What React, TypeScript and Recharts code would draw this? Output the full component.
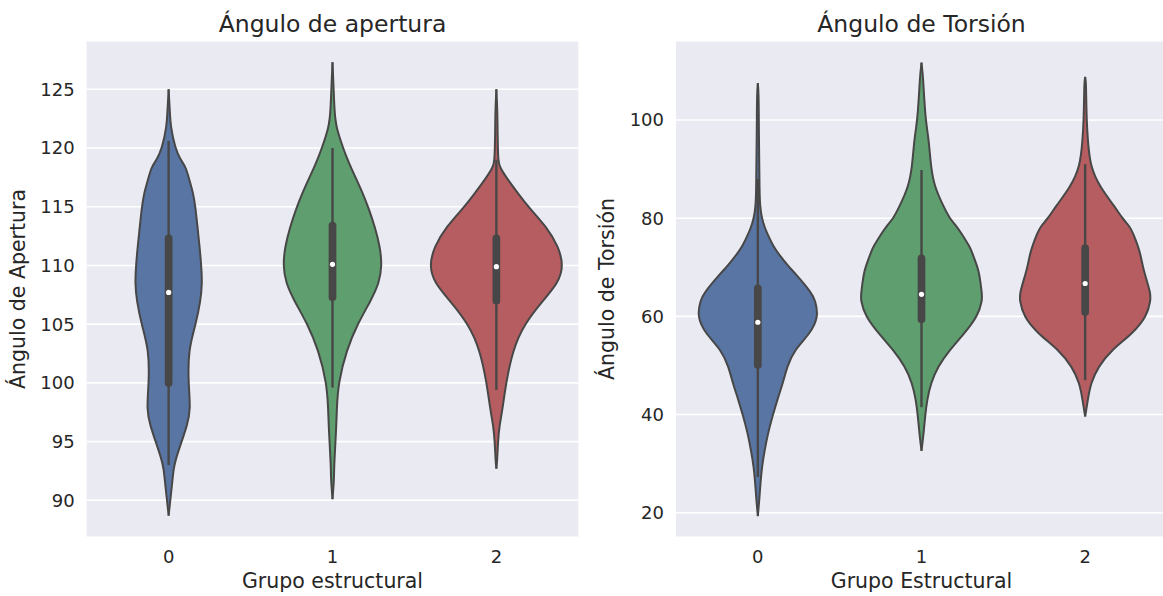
import React from 'react';
import {
  ComposedChart,
  Area,
  Line,
  XAxis,
  YAxis,
  CartesianGrid,
  ReferenceLine,
  ReferenceDot,
} from 'recharts';

// ---------- shared ----------
const categories = [0, 1, 2];
const categoryTicks = [0, 1, 2];
const violinColors = ['#5975a4', '#5f9e6e', '#b55d60'];

// ---------- Ángulo de apertura ----------
const aperturaTitle = 'Ángulo de apertura';
const aperturaXLabel = 'Grupo estructural';
const aperturaYLabel = 'Ángulo de Apertura';
const aperturaTicks = [90, 95, 100, 105, 110, 115, 120, 125];
const aperturaDomain = [86.85, 129.14];
const aperturaLevels = [88.7, 90.1, 91.7, 92.7, 93.4, 95, 96.3, 97.7, 100, 102.8, 105, 107, 108.5, 110, 111.6, 113.3, 115, 116.1, 117.3, 118.4, 119, 120, 121.8, 123.2, 125, 127.3];
const aperturaWidth0 = [0, 0.011, 0.023, 0.031, 0.041, 0.079, 0.111, 0.135, 0.12, 0.12, 0.166, 0.195, 0.205, 0.199, 0.189, 0.176, 0.163, 0.151, 0.126, 0.105, 0.072, 0.04, 0.012, 0.007, 0, null];
const aperturaWidth1 = [null, 0, 0.009, 0.01, 0.012, 0.018, 0.023, 0.026, 0.035, 0.086, 0.152, 0.234, 0.285, 0.302, 0.29, 0.259, 0.217, 0.186, 0.147, 0.111, 0.092, 0.065, 0.021, 0.012, 0.007, 0];
const aperturaWidth2 = [null, null, null, 0, 0.005, 0.01, 0.018, 0.037, 0.059, 0.1, 0.17, 0.284, 0.378, 0.41, 0.379, 0.306, 0.194, 0.134, 0.07, 0.018, 0.012, 0.009, 0.007, 0.006, 0, null];
const aperturaWhiskerLow = [93.0, 99.6, 99.4];
const aperturaQ1 = [100.0, 107.3, 107.0];
const aperturaMedian = [107.7, 110.1, 109.9];
const aperturaQ3 = [112.3, 113.4, 112.3];
const aperturaWhiskerHigh = [120.6, 120.0, 119.0];

// ---------- Ángulo de Torsión ----------
const torsionTitle = 'Ángulo de Torsión';
const torsionXLabel = 'Grupo Estructural';
const torsionYLabel = 'Ángulo de Torsión';
const torsionTicks = [20, 40, 60, 80, 100];
const torsionDomain = [15.0, 116.15];
const torsionLevels = [19.3, 22.6, 26, 29.4, 32.6, 36.2, 39.6, 43, 46.4, 49.7, 53.1, 56.5, 60, 63.3, 64.7, 68.8, 70.1, 72.8, 74.2, 76.9, 78.3, 80, 82.3, 86.4, 90.5, 95.9, 100, 105.4, 107.5, 108.8, 111.7];
const torsionWidth0 = [0, 0.009, 0.016, 0.025, 0.041, 0.062, 0.089, 0.119, 0.153, 0.178, 0.222, 0.32, 0.372, 0.35, 0.331, 0.227, 0.189, 0.125, 0.095, 0.057, 0.04, 0.025, 0.013, 0.01, 0.009, 0.007, 0.006, 0.005, 0, null, null];
const torsionWidth1 = [null, null, null, null, 0, 0.013, 0.022, 0.034, 0.057, 0.099, 0.171, 0.262, 0.343, 0.372, 0.369, 0.353, 0.341, 0.312, 0.295, 0.244, 0.216, 0.171, 0.136, 0.079, 0.057, 0.045, 0.025, 0.015, 0.011, 0.009, 0];
const torsionWidth2 = [null, null, null, null, null, null, 0, 0.016, 0.034, 0.079, 0.159, 0.29, 0.377, 0.4, 0.4, 0.363, 0.353, 0.336, 0.324, 0.293, 0.273, 0.226, 0.182, 0.089, 0.031, 0.016, 0.009, 0.006, 0.005, 0, null];
const torsionWhiskerLow = [27.3, 41.5, 47.0];
const torsionQ1 = [50.1, 59.4, 60.9];
const torsionMedian = [58.8, 64.5, 66.7];
const torsionQ3 = [65.7, 71.8, 73.9];
const torsionWhiskerHigh = [88.0, 89.8, 91.0];

const TEXT = '#262626';
const EDGE = '#474747';
const FONT = "'DejaVu Sans', sans-serif";
const CURVE = 'basis';

function buildRows(levels: number[], widths: (number | null)[][]) {
  return levels.map((y, i) => {
    const row: Record<string, any> = { y };
    widths.forEach((w, k) => {
      const c = categories[k];
      const h = w[i];
      row[`v${k}`] = h == null ? null : [c - h, c + h];
      row[`l${k}`] = h == null ? null : c - h;
      row[`r${k}`] = h == null ? null : c + h;
    });
    return row;
  });
}

type PanelProps = {
  rows: Record<string, any>[];
  domain: number[];
  ticks: number[];
  whiskerLow: number[];
  q1: number[];
  median: number[];
  q3: number[];
  whiskerHigh: number[];
  width: number;
  margin: { top: number; right: number; bottom: number; left: number };
};

function ViolinPanel(p: PanelProps) {
  return (
    <ComposedChart layout="vertical" width={p.width} height={596} data={p.rows} margin={p.margin}>
      <CartesianGrid horizontal vertical={false} stroke="#ffffff" strokeWidth={1.6} fill="#EAEAF2" fillOpacity={1} />
      <XAxis
        type="number"
        domain={[-0.5, 2.5]}
        ticks={categoryTicks}
        allowDataOverflow
        interval={0}
        axisLine={false}
        tickLine={false}
        tickSize={0}
        tickMargin={13}
        height={30}
        tick={{ fontSize: 18, fill: TEXT, fontFamily: FONT }}
      />
      <YAxis
        type="number"
        dataKey="y"
        domain={p.domain}
        ticks={p.ticks}
        reversed
        allowDataOverflow
        interval={0}
        axisLine={false}
        tickLine={false}
        tickSize={0}
        tickMargin={12}
        width={60}
        tick={{ fontSize: 18, fill: TEXT, fontFamily: FONT }}
      />
      {categories.map((k) => (
        <Area
          key={`a${k}`}
          dataKey={`v${k}`}
          type={CURVE}
          fill={violinColors[k]}
          fillOpacity={1}
          stroke="none"
          isAnimationActive={false}
          activeDot={false}
          dot={false}
        />
      ))}
      {categories.map((k) => (
        <Line
          key={`l${k}`}
          dataKey={`l${k}`}
          type={CURVE}
          stroke={EDGE}
          strokeWidth={2}
          dot={false}
          activeDot={false}
          isAnimationActive={false}
        />
      ))}
      {categories.map((k) => (
        <Line
          key={`r${k}`}
          dataKey={`r${k}`}
          type={CURVE}
          stroke={EDGE}
          strokeWidth={2}
          dot={false}
          activeDot={false}
          isAnimationActive={false}
        />
      ))}
      {categories.map((k) => (
        <ReferenceLine
          key={`w${k}`}
          segment={[
            { x: categories[k], y: p.whiskerLow[k] },
            { x: categories[k], y: p.whiskerHigh[k] },
          ]}
          stroke={EDGE}
          strokeWidth={2.4}
        />
      ))}
      {categories.map((k) => (
        <ReferenceLine
          key={`b${k}`}
          segment={[
            { x: categories[k], y: p.q1[k] },
            { x: categories[k], y: p.q3[k] },
          ]}
          stroke={EDGE}
          strokeWidth={7.7}
          strokeLinecap="round"
        />
      ))}
      {categories.map((k) => (
        <ReferenceDot
          key={`m${k}`}
          x={categories[k]}
          y={p.median[k]}
          r={2.6}
          fill="#ffffff"
          stroke="none"
        />
      ))}
    </ComposedChart>
  );
}

const aperturaRows = buildRows(aperturaLevels, [aperturaWidth0, aperturaWidth1, aperturaWidth2]);
const torsionRows = buildRows(torsionLevels, [torsionWidth0, torsionWidth1, torsionWidth2]);

export default function App() {
  return (
    <div
      style={{
        position: 'absolute',
        left: 0,
        top: 0,
        width: 1163,
        height: 596,
        overflow: 'hidden',
        background: '#ffffff',
        fontFamily: FONT,
      }}
    >
      <div style={{ position: 'absolute', left: 0, top: 0 }}>
        <ViolinPanel
          rows={aperturaRows}
          domain={aperturaDomain}
          ticks={aperturaTicks}
          whiskerLow={aperturaWhiskerLow}
          q1={aperturaQ1}
          median={aperturaMedian}
          q3={aperturaQ3}
          whiskerHigh={aperturaWhiskerHigh}
          width={600}
          margin={{ top: 40.7, right: 21.7, bottom: 28.7, left: 26.7 }}
        />
      </div>
      <div style={{ position: 'absolute', left: 600, top: 0 }}>
        <ViolinPanel
          rows={torsionRows}
          domain={torsionDomain}
          ticks={torsionTicks}
          whiskerLow={torsionWhiskerLow}
          q1={torsionQ1}
          median={torsionMedian}
          q3={torsionQ3}
          whiskerHigh={torsionWhiskerHigh}
          width={570}
          margin={{ top: 40.7, right: 3, bottom: 28.7, left: 16 }}
        />
      </div>
      <svg
        width={1163}
        height={596}
        style={{ position: 'absolute', left: 0, top: 0, pointerEvents: 'none' }}
      >
        <g fontFamily={FONT} fill={TEXT}>
          <text x={332.5} y={31.7} fontSize={23.5} textAnchor="middle">{aperturaTitle}</text>
          <text x={921.5} y={31.7} fontSize={23.5} textAnchor="middle">{torsionTitle}</text>
          <text x={332.5} y={588} fontSize={20.5} textAnchor="middle">{aperturaXLabel}</text>
          <text x={921.5} y={588} fontSize={20.5} textAnchor="middle">{torsionXLabel}</text>
          <text x={24.5} y={289} fontSize={20.5} textAnchor="middle" transform="rotate(-90 24.5 289)">{aperturaYLabel}</text>
          <text x={614} y={289} fontSize={20.5} textAnchor="middle" transform="rotate(-90 614 289)">{torsionYLabel}</text>
        </g>
      </svg>
    </div>
  );
}
